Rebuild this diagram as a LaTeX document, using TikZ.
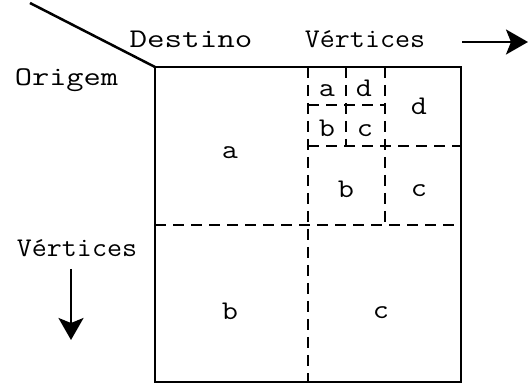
\documentclass[tikz,border=0pt]{standalone}
\usetikzlibrary{arrows.meta}
\newcommand{\mytxt}[2]{\scalebox{#1}[1]{\fontsize{27}{32}\selectfont\ttfamily #2}}
\tikzset{
  frame/.style={line width=2.8pt},
  split/.style={line width=2.7pt, dash pattern=on 11pt off 7pt},
  lbl/.style={inner sep=0pt, anchor=base},
  bigarrow/.style={line width=2.6pt, -{Stealth[length=22pt,width=25pt,inset=5pt]}},
}
\begin{document}
\begin{tikzpicture}[x=1pt,y=-1pt]
\useasboundingbox (0,0) rectangle (528,390);
% corners
\coordinate (tl) at (155,67);
\coordinate (br) at (461,382);
\coordinate (diag) at (30,3);
% frame
\draw[frame] (tl) rectangle (br);
\draw[line width=2.5pt] (diag) -- (tl);
% level 1
\draw[split] (155,225) -- (461,225);
\draw[split] (308,67) -- (308,382);
% level 2
\draw[split] (308,146) -- (461,146);
\draw[split] (385,67) -- (385,225);
% level 3
\draw[split] (308,105) -- (385,105);
\draw[split] (346,67) -- (346,146);
% axis labels
\node[lbl] (dest) at (191,48) {\mytxt{1.26}{Destino}};
\node[lbl] (vtop) at (365,48) {\mytxt{1.08}{V\'ertices}};
\node[lbl] (orig) at (66.5,86) {\mytxt{1.24}{Origem}};
\node[lbl] (vleft) at (77,257) {\mytxt{1.08}{V\'ertices}};
% arrows
\coordinate (ra0) at (462,42);
\coordinate (ra1) at (528,42);
\coordinate (da0) at (71,269);
\coordinate (da1) at (71,340);
\draw[bigarrow] (ra0) -- (ra1);
\draw[bigarrow] (da0) -- (da1);
% cell labels
\node[lbl] (a3) at (327,97) {\mytxt{1.16}{a}};
\node[lbl] (d3) at (364,97) {\mytxt{1.16}{d}};
\node[lbl] (b3) at (327,137) {\mytxt{1.16}{b}};
\node[lbl] (c3) at (365,137) {\mytxt{1.16}{c}};
\node[lbl] (d2) at (419,115) {\mytxt{1.16}{d}};
\node[lbl] (b2) at (346,198) {\mytxt{1.16}{b}};
\node[lbl] (c2) at (419,197) {\mytxt{1.16}{c}};
\node[lbl] (a1) at (230,159) {\mytxt{1.16}{a}};
\node[lbl] (b1) at (230,320) {\mytxt{1.16}{b}};
\node[lbl] (c1) at (381,319) {\mytxt{1.16}{c}};
\end{tikzpicture}
\end{document}
